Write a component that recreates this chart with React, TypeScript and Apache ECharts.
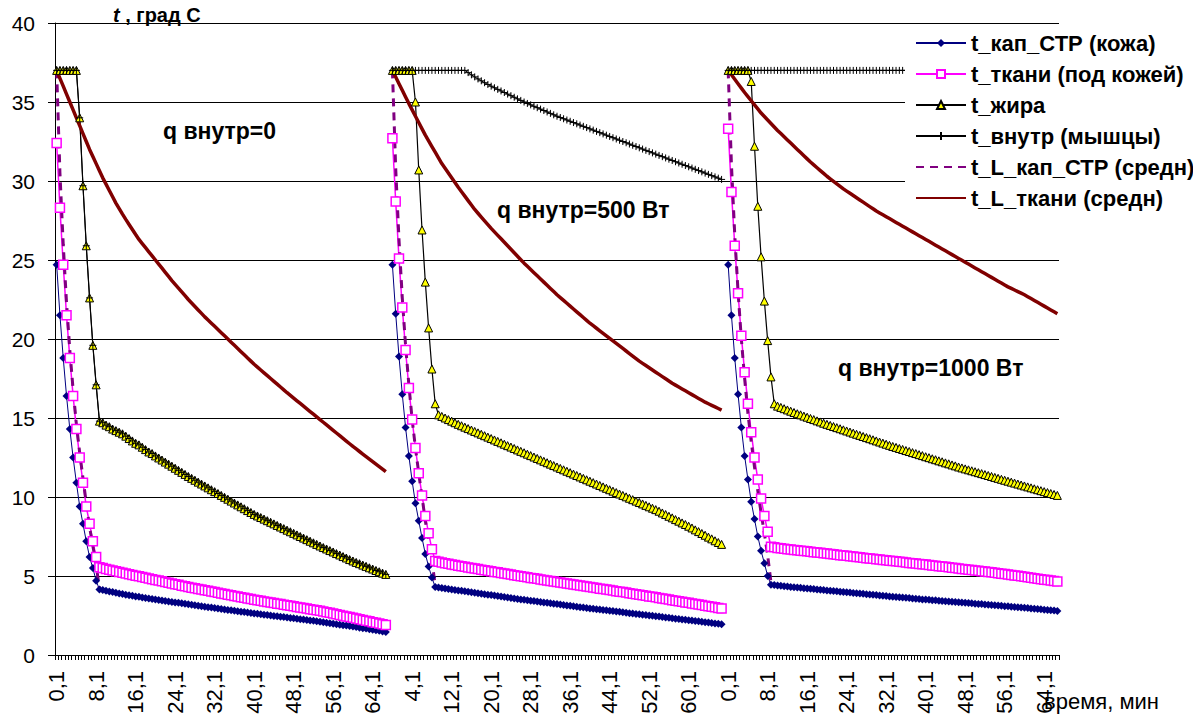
import React, { useEffect, useRef } from "react";
import * as echarts from "echarts";

const FONT = '"Liberation Sans", Arial, sans-serif';

// x-axis tick labels (every 12th category), three runs of 101 points separated by an empty category
const tickLabels = ["0,1","8,1","16,1","24,1","32,1","40,1","48,1","56,1","64,1","4,1","12,1","20,1","28,1","36,1","44,1","52,1","60,1","0,1","8,1","16,1","24,1","32,1","40,1","48,1","56,1","64,1"];
const categories = Array.from({ length: 305 }, (_, i) => String(i));

const seriesNames = ["t_кап_СТР (кожа)", "t_ткани (под кожей)", "t_жира", "t_внутр (мышцы)", "t_L_кап_СТР (средн)", "t_L_ткани (средн)"];

// ---------- run 1 : q внутр = 0 ----------
const kapS1 = [24.7,21.5,18.8,16.4,14.3,12.5,10.9,9.4,8.3,7.2,6.2,5.5,4.7,4.15,
4.11,4.06,4.02,3.98,3.94,3.9,3.86,3.82,3.78,3.75,3.71,3.68,3.64,3.61,3.57,3.54,3.51,3.48,3.45,3.42,3.39,3.36,3.33,3.3,3.27,3.24,3.21,3.18,3.15,3.12,3.09,3.06,3.03,3.0,2.97,2.94,2.91,2.88,2.85,2.83,2.8,2.77,2.74,2.72,2.69,2.66,2.63,2.61,2.58,2.55,2.53,2.5,2.47,2.45,2.42,2.4,2.37,2.34,2.32,2.29,2.27,2.24,2.21,2.19,2.16,2.13,2.1,2.07,2.04,2.01,1.98,1.95,1.92,1.89,1.86,1.83,1.8,1.77,1.73,1.7,1.67,1.63,1.6,1.56,1.53,1.49,1.45];
const tkS1 = [32.4,28.3,24.7,21.5,18.8,16.4,14.3,12.5,10.9,9.4,8.3,7.2,6.2,5.55,
5.5,5.45,5.4,5.35,5.3,5.25,5.2,5.16,5.11,5.07,5.02,4.98,4.93,4.89,4.84,4.8,4.75,4.71,4.66,4.62,4.57,4.53,4.48,4.44,4.39,4.35,4.3,4.26,4.22,4.18,4.14,4.1,4.06,4.02,3.98,3.94,3.9,3.86,3.82,3.78,3.74,3.7,3.66,3.62,3.58,3.54,3.5,3.46,3.43,3.39,3.36,3.32,3.29,3.25,3.22,3.18,3.15,3.11,3.08,3.04,3.01,2.97,2.94,2.9,2.87,2.83,2.8,2.76,2.71,2.67,2.62,2.58,2.53,2.49,2.44,2.4,2.35,2.31,2.26,2.22,2.17,2.13,2.08,2.04,1.99,1.95,1.9];
const fatS1 = [37,37,37,37,37,37,37,34.0,29.7,25.9,22.6,19.6,17.1,14.8,
14.7,14.55,14.45,14.3,14.2,14.1,14.0,13.85,13.7,13.55,13.4,13.3,13.15,13.0,12.85,12.75,12.6,12.47,12.34,12.21,12.08,11.95,11.82,11.69,11.56,11.43,11.3,11.18,11.06,10.94,10.82,10.7,10.58,10.46,10.34,10.22,10.1,9.98,9.86,9.74,9.62,9.5,9.38,9.26,9.14,9.02,8.9,8.8,8.7,8.6,8.5,8.4,8.3,8.2,8.1,8.0,7.9,7.8,7.7,7.6,7.5,7.4,7.3,7.2,7.1,7.0,6.9,6.8,6.71,6.61,6.52,6.42,6.33,6.23,6.14,6.04,5.95,5.86,5.78,5.69,5.61,5.52,5.44,5.35,5.27,5.18,5.1];
const innerS1 = [37,37,37,37,37,37,37,34.0,29.7,25.9,22.6,19.6,17.1,14.8,
14.7,14.55,14.45,14.3,14.2,14.1,14.0,13.85,13.7,13.55,13.4,13.3,13.15,13.0,12.85,12.75,12.6,12.47,12.34,12.21,12.08,11.95,11.82,11.69,11.56,11.43,11.3,11.18,11.06,10.94,10.82,10.7,10.58,10.46,10.34,10.22,10.1,9.98,9.86,9.74,9.62,9.5,9.38,9.26,9.14,9.02,8.9,8.8,8.7,8.6,8.5,8.4,8.3,8.2,8.1,8.0,7.9,7.8,7.7,7.6,7.5,7.4,7.3,7.2,7.1,7.0,6.9,6.8,6.71,6.61,6.52,6.42,6.33,6.23,6.14,6.04,5.95,5.86,5.78,5.69,5.61,5.52,5.44,5.35,5.27,5.18,5.1];
const lKapS1 = [37,30.5,26.0,22.3,19.3,16.8,14.6,12.8,11.2,9.6,8.1,6.9,5.7,4.2,
4.11,4.06,4.02,3.98,3.94,3.9,3.86,3.82,3.78,3.75,3.71,3.68,3.64,3.61,3.57,3.54,3.51,3.48,3.45,3.42,3.39,3.36,3.33,3.3,3.27,3.24,3.21,3.18,3.15,3.12,3.09,3.06,3.03,3.0,2.97,2.94,2.91,2.88,2.85,2.83,2.8,2.77,2.74,2.72,2.69,2.66,2.63,2.61,2.58,2.55,2.53,2.5,2.47,2.45,2.42,2.4,2.37,2.34,2.32,2.29,2.27,2.24,2.21,2.19,2.16,2.13,2.1,2.07,2.04,2.01,1.98,1.95,1.92,1.89,1.86,1.83,1.8,1.77,1.73,1.7,1.67,1.63,1.6,1.56,1.53,1.49,1.45];
const lTkS1 = [37.0,36.5,36.0,35.5,35.0,34.5,34.0,33.5,33.0,32.5,32.0,31.55,31.1,30.65,30.2,29.8,29.4,29.0,28.6,28.25,27.9,27.57,27.25,26.93,26.61,26.3,26.04,25.78,25.52,25.26,25.0,24.74,24.48,24.22,23.96,23.7,23.46,23.22,22.98,22.74,22.5,22.28,22.06,21.84,21.62,21.4,21.2,21.0,20.8,20.6,20.4,20.2,20.0,19.8,19.6,19.4,19.2,19.0,18.8,18.6,18.4,18.22,18.04,17.86,17.68,17.5,17.32,17.14,16.96,16.78,16.6,16.43,16.26,16.09,15.92,15.75,15.58,15.41,15.24,15.07,14.9,14.73,14.56,14.39,14.22,14.05,13.88,13.71,13.54,13.37,13.2,13.04,12.88,12.72,12.56,12.4,12.24,12.08,11.92,11.76,11.6];

// ---------- run 2 : q внутр = 500 Вт ----------
const kapS2 = [24.7,21.6,18.9,16.5,14.4,12.6,11.0,9.6,8.5,7.4,6.4,5.6,4.9,4.3,
4.27,4.24,4.21,4.18,4.15,4.12,4.09,4.06,4.03,4.0,3.97,3.94,3.91,3.88,3.85,3.82,3.79,3.76,3.73,3.7,3.67,3.64,3.61,3.58,3.55,3.52,3.5,3.47,3.44,3.41,3.38,3.36,3.33,3.3,3.27,3.25,3.22,3.19,3.16,3.14,3.11,3.08,3.06,3.03,3.0,2.98,2.95,2.93,2.9,2.88,2.85,2.83,2.8,2.78,2.75,2.73,2.7,2.68,2.65,2.63,2.6,2.58,2.55,2.53,2.5,2.48,2.45,2.43,2.4,2.38,2.35,2.33,2.3,2.28,2.25,2.23,2.2,2.18,2.15,2.13,2.1,2.08,2.05,2.03,2.0,1.98,1.95];
const tkS2 = [32.7,28.7,25.1,22.0,19.3,16.9,14.9,13.1,11.5,10.1,8.8,7.7,6.7,5.95,
5.9,5.86,5.81,5.77,5.73,5.69,5.65,5.61,5.58,5.54,5.51,5.47,5.44,5.4,5.37,5.33,5.3,5.26,5.23,5.19,5.16,5.12,5.09,5.05,5.02,4.98,4.95,4.92,4.88,4.85,4.82,4.78,4.75,4.72,4.69,4.65,4.62,4.59,4.56,4.53,4.49,4.46,4.43,4.4,4.36,4.33,4.3,4.27,4.24,4.2,4.17,4.14,4.11,4.08,4.04,4.01,3.98,3.95,3.91,3.88,3.85,3.81,3.78,3.75,3.71,3.68,3.65,3.61,3.58,3.54,3.51,3.47,3.44,3.4,3.37,3.33,3.3,3.26,3.23,3.19,3.16,3.12,3.09,3.05,3.02,2.98,2.95];
const fatS2 = [37,37,37,37,37,37,37,35.0,30.7,26.9,23.6,20.7,18.1,15.9,
15.2,15.1,15.0,14.9,14.8,14.7,14.6,14.51,14.42,14.33,14.24,14.15,14.06,13.97,13.88,13.79,13.7,13.61,13.52,13.43,13.34,13.25,13.16,13.07,12.98,12.89,12.8,12.71,12.62,12.53,12.44,12.35,12.26,12.17,12.08,11.99,11.9,11.81,11.72,11.63,11.54,11.45,11.36,11.27,11.18,11.09,11.0,10.91,10.82,10.73,10.64,10.55,10.46,10.37,10.28,10.19,10.1,10.01,9.92,9.83,9.74,9.65,9.56,9.47,9.38,9.29,9.2,9.1,8.99,8.89,8.78,8.68,8.57,8.47,8.36,8.26,8.15,8.04,7.92,7.81,7.69,7.58,7.46,7.35,7.23,7.12,7.0];
const innerS2 = [37,37,37,37,37,37,37,37,37,37,37,37,37,37,37,37,37,37,37,37,37,37,
37.0,36.86,36.72,36.59,36.46,36.34,36.22,36.11,36.0,35.9,35.8,35.7,35.6,35.5,35.4,35.3,35.2,35.1,35.0,34.91,34.82,34.73,34.64,34.55,34.46,34.37,34.28,34.19,34.1,34.02,33.94,33.86,33.78,33.7,33.62,33.54,33.46,33.38,33.3,33.22,33.14,33.06,32.98,32.9,32.82,32.74,32.66,32.58,32.5,32.42,32.34,32.26,32.18,32.1,32.02,31.94,31.86,31.78,31.7,31.62,31.54,31.46,31.38,31.3,31.22,31.14,31.06,30.98,30.9,30.82,30.74,30.66,30.58,30.5,30.42,30.34,30.26,30.18,30.1];
const lKapS2 = [37,30.8,26.3,22.6,19.6,17.1,14.9,13.1,11.5,10.0,8.5,7.2,6.0,4.4,
4.27,4.24,4.21,4.18,4.15,4.12,4.09,4.06,4.03,4.0,3.97,3.94,3.91,3.88,3.85,3.82,3.79,3.76,3.73,3.7,3.67,3.64,3.61,3.58,3.55,3.52,3.5,3.47,3.44,3.41,3.38,3.36,3.33,3.3,3.27,3.25,3.22,3.19,3.16,3.14,3.11,3.08,3.06,3.03,3.0,2.98,2.95,2.93,2.9,2.88,2.85,2.83,2.8,2.78,2.75,2.73,2.7,2.68,2.65,2.63,2.6,2.58,2.55,2.53,2.5,2.48,2.45,2.43,2.4,2.38,2.35,2.33,2.3,2.28,2.25,2.23,2.2,2.18,2.15,2.13,2.1,2.08,2.05,2.03,2.0,1.98,1.95];
const lTkS2 = [37.0,36.58,36.16,35.74,35.32,34.9,34.5,34.1,33.7,33.3,32.9,32.54,32.18,31.82,31.46,31.1,30.8,30.5,30.2,29.9,29.6,29.32,29.04,28.76,28.48,28.2,27.96,27.72,27.48,27.24,27.0,26.78,26.56,26.34,26.12,25.9,25.68,25.46,25.24,25.02,24.8,24.6,24.4,24.2,24.0,23.8,23.6,23.4,23.2,23.0,22.8,22.62,22.44,22.26,22.08,21.9,21.72,21.54,21.36,21.18,21.0,20.84,20.68,20.52,20.36,20.2,20.04,19.88,19.72,19.56,19.4,19.24,19.08,18.92,18.76,18.6,18.46,18.32,18.18,18.04,17.9,17.76,17.62,17.48,17.34,17.2,17.08,16.96,16.84,16.72,16.6,16.48,16.36,16.24,16.12,16.0,15.9,15.8,15.7,15.6,15.5];

// ---------- run 3 : q внутр = 1000 Вт ----------
const kapS3 = [24.7,21.5,18.8,16.5,14.4,12.6,11.1,9.7,8.6,7.5,6.6,5.8,5.0,4.45,
4.43,4.4,4.38,4.35,4.33,4.31,4.29,4.27,4.25,4.23,4.21,4.19,4.17,4.15,4.13,4.11,4.09,4.07,4.05,4.03,4.01,3.99,3.97,3.95,3.93,3.91,3.89,3.87,3.85,3.83,3.81,3.79,3.77,3.75,3.73,3.71,3.69,3.67,3.65,3.64,3.62,3.6,3.58,3.56,3.54,3.52,3.51,3.49,3.47,3.46,3.44,3.42,3.4,3.39,3.37,3.35,3.34,3.32,3.3,3.29,3.27,3.25,3.23,3.22,3.2,3.18,3.17,3.15,3.13,3.11,3.09,3.08,3.06,3.04,3.02,3.0,2.99,2.97,2.95,2.93,2.91,2.89,2.87,2.85,2.83,2.81,2.79];
const tkS3 = [33.3,29.3,25.9,22.9,20.2,17.9,15.9,14.1,12.5,11.1,9.9,8.8,7.8,6.85,
6.82,6.78,6.75,6.72,6.69,6.67,6.65,6.63,6.6,6.58,6.56,6.53,6.51,6.49,6.47,6.44,6.42,6.4,6.37,6.35,6.32,6.3,6.28,6.25,6.23,6.2,6.18,6.16,6.13,6.11,6.09,6.06,6.04,6.02,6.0,5.97,5.95,5.93,5.9,5.88,5.86,5.83,5.81,5.79,5.76,5.74,5.72,5.7,5.67,5.65,5.62,5.6,5.58,5.55,5.53,5.5,5.48,5.45,5.43,5.4,5.38,5.35,5.33,5.3,5.28,5.25,5.23,5.2,5.17,5.14,5.12,5.09,5.06,5.03,5.01,4.98,4.95,4.92,4.89,4.86,4.83,4.8,4.77,4.74,4.71,4.68,4.65];
const fatS3 = [37,37,37,37,37,37,37,36.3,32.2,28.4,25.2,22.4,19.9,17.6,15.9,
15.75,15.67,15.59,15.51,15.43,15.35,15.27,15.2,15.12,15.05,14.97,14.9,14.82,14.75,14.67,14.6,14.53,14.46,14.39,14.32,14.25,14.18,14.11,14.04,13.97,13.9,13.83,13.76,13.69,13.62,13.55,13.48,13.41,13.34,13.27,13.2,13.14,13.07,13.01,12.94,12.88,12.81,12.75,12.68,12.62,12.55,12.49,12.42,12.36,12.29,12.23,12.16,12.1,12.03,11.97,11.9,11.84,11.78,11.72,11.66,11.6,11.54,11.48,11.42,11.36,11.3,11.24,11.18,11.12,11.06,11.0,10.94,10.88,10.82,10.76,10.7,10.64,10.58,10.52,10.46,10.4,10.34,10.28,10.22,10.16,10.1];
const innerS3 = [37,37,37,37,37,37,37,37,37,37,37,37,37,37,37,37,37,37,37,37,37,37,37,37,37,37,37,37,37,37,37,37,37,37,37,37,37,37,37,37,37,37,37,37,37,37,37,37,37,37,37,37,37,37,37,37,37,37,37,37,37,37,37,37,37,37,37,37,37,37,37,37,37,37,37,37,37,37,37,37,37,37,37,37,37,37,37,37,37,37,37,37,37,37,37,37,37,37,37,37,37];
const lKapS3 = [37,31.0,26.6,23.0,20.0,17.5,15.3,13.5,11.9,10.4,9.0,7.7,6.3,4.6,
4.43,4.4,4.38,4.35,4.33,4.31,4.29,4.27,4.25,4.23,4.21,4.19,4.17,4.15,4.13,4.11,4.09,4.07,4.05,4.03,4.01,3.99,3.97,3.95,3.93,3.91,3.89,3.87,3.85,3.83,3.81,3.79,3.77,3.75,3.73,3.71,3.69,3.67,3.65,3.64,3.62,3.6,3.58,3.56,3.54,3.52,3.51,3.49,3.47,3.46,3.44,3.42,3.4,3.39,3.37,3.35,3.34,3.32,3.3,3.29,3.27,3.25,3.23,3.22,3.2,3.18,3.17,3.15,3.13,3.11,3.09,3.08,3.06,3.04,3.02,3.0,2.99,2.97,2.95,2.93,2.91,2.89,2.87,2.85,2.83,2.81,2.79];
const lTkS3 = [37.0,36.72,36.44,36.16,35.88,35.6,35.34,35.08,34.82,34.56,34.3,34.08,33.86,33.64,33.42,33.2,33.0,32.8,32.6,32.4,32.2,32.0,31.8,31.6,31.4,31.2,31.02,30.84,30.66,30.48,30.3,30.14,29.98,29.82,29.66,29.5,29.36,29.22,29.08,28.94,28.8,28.66,28.52,28.38,28.24,28.1,27.98,27.86,27.74,27.62,27.5,27.38,27.26,27.14,27.02,26.9,26.78,26.66,26.54,26.42,26.3,26.18,26.06,25.94,25.82,25.7,25.58,25.46,25.34,25.22,25.1,24.98,24.86,24.74,24.62,24.5,24.38,24.26,24.14,24.02,23.9,23.78,23.66,23.54,23.42,23.3,23.2,23.1,23.0,22.9,22.8,22.68,22.56,22.44,22.32,22.2,22.08,21.96,21.84,21.72,21.6];

const annotations = [
  { text: "q внутр=0", x: 163, y: 119 },
  { text: "q внутр=500 Вт", x: 497, y: 198 },
  { text: "q внутр=1000 Вт", x: 838, y: 356 },
];

const joinRuns = (a: number[], b: number[], c: number[]) => [...a, null, ...b, null, ...c];

const PLUS = "path://M5,0L5,10M0,5L10,5";

export default function App() {
  const ref = useRef<HTMLDivElement>(null);
  useEffect(() => {
    if (!ref.current) return;
    const chart = echarts.init(ref.current, undefined, { renderer: "svg" });
    const base = { type: "line", showAllSymbol: true, connectNulls: false, z: 2 };
    const option: any = {
      animation: false,
      backgroundColor: "#fff",
      textStyle: { fontFamily: FONT, color: "#000" },
      grid: { left: 55, right: 134, top: 23, bottom: 62, containLabel: false },
      xAxis: {
        type: "category",
        data: categories,
        boundaryGap: true,
        axisLine: { show: true, lineStyle: { color: "#000", width: 1 } },
        axisTick: { show: true, interval: 0, length: 5, lineStyle: { color: "#000", width: 1 } },
        axisLabel: {
          interval: 11,
          rotate: 90,
          fontSize: 22,
          color: "#000",
          margin: 16,
          padding: [0, 0, 9, 0],
          fontFamily: FONT,
          formatter: (_v: string, i: number) => (i % 12 === 0 ? tickLabels[i / 12] ?? "" : ""),
        },
        splitLine: { show: false },
      },
      yAxis: {
        type: "value",
        min: 0,
        max: 40,
        interval: 5,
        axisLine: { show: true, lineStyle: { color: "#000", width: 1 } },
        axisTick: { show: true, length: 7, lineStyle: { color: "#000" } },
        axisLabel: { fontSize: 21, color: "#000", margin: 20, fontFamily: FONT },
        splitLine: { show: true, lineStyle: { color: "#000", width: 1 } },
      },
      legend: {
        orient: "vertical",
        left: 905,
        top: 24,
        data: seriesNames.map((n, i) => (i >= 4 ? { name: n, itemStyle: { opacity: 0 } } : { name: n })),
        backgroundColor: "#fff",
        padding: [8, 4, 8, 10],
        itemWidth: 50,
        itemHeight: 10,
        itemGap: 9,
        textStyle: { fontSize: 22, fontWeight: "bold", color: "#000", fontFamily: FONT },
        z: 10,
      },
      graphic: [
        {
          type: "text",
          left: 113,
          top: 5,
          style: {
            text: "{a|t}{b| , град С}",
            rich: {
              a: { fontSize: 20, fontWeight: "bold", fontStyle: "italic", fontFamily: FONT, fill: "#000" },
              b: { fontSize: 20, fontWeight: "bold", fontFamily: FONT, fill: "#000" },
            },
          },
        },
        ...annotations.map((a) => ({
          type: "text",
          left: a.x,
          top: a.y,
          style: { text: a.text, fontSize: 23, fontWeight: "bold", fontFamily: FONT, fill: "#000" },
        })),
        {
          type: "text",
          left: 1044,
          top: 690,
          style: { text: "время, мин", fontSize: 22, fontFamily: FONT, fill: "#000" },
        },
      ],
      series: [
        {
          ...base,
          name: seriesNames[0],
          data: joinRuns(kapS1, kapS2, kapS3),
          symbol: "diamond",
          symbolSize: 8,
          itemStyle: { color: "#000080" },
          lineStyle: { color: "#000080", width: 1 },
        },
        {
          ...base,
          name: seriesNames[1],
          data: joinRuns(tkS1, tkS2, tkS3),
          symbol: "rect",
          symbolSize: 9,
          itemStyle: { color: "#ffffff", borderColor: "#FF00FF", borderWidth: 1.5 },
          lineStyle: { color: "#FF00FF", width: 1.5 },
        },
        {
          ...base,
          name: seriesNames[2],
          data: joinRuns(fatS1, fatS2, fatS3),
          symbol: "triangle",
          symbolSize: 8,
          itemStyle: { color: "#FFFF00", borderColor: "#000", borderWidth: 1 },
          lineStyle: { color: "#000", width: 1.2 },
        },
        {
          ...base,
          name: seriesNames[3],
          data: joinRuns(innerS1, innerS2, innerS3),
          symbol: PLUS,
          symbolSize: 7,
          itemStyle: { color: "#000", borderColor: "#000", borderWidth: 1 },
          lineStyle: { color: "#000", width: 1 },
        },
        {
          ...base,
          name: seriesNames[4],
          data: joinRuns(lKapS1, lKapS2, lKapS3),
          symbol: "none",
          itemStyle: { color: "#800080" },
          lineStyle: { color: "#800080", width: 3, type: [8, 6] },
        },
        {
          ...base,
          name: seriesNames[5],
          data: joinRuns(lTkS1, lTkS2, lTkS3),
          symbol: "none",
          itemStyle: { color: "#800000" },
          lineStyle: { color: "#800000", width: 3.5 },
        },
      ],
    };
    chart.setOption(option);
    return () => chart.dispose();
  }, []);
  return <div ref={ref} style={{ position: "fixed", left: 0, top: 0, width: 1193, height: 717 }} />;
}
